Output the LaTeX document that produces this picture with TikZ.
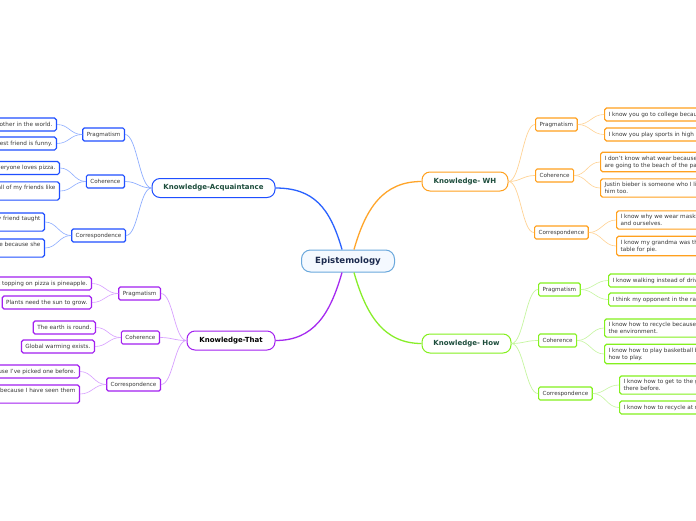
\documentclass[tikz,border=0pt]{standalone}
\usepackage{fontspec}
\setmainfont{DejaVu Sans}
\definecolor{bluB}{HTML}{1F4FFF}
\definecolor{bluL}{HTML}{8EAEFF}
\definecolor{bluM}{HTML}{2A62FF}
\definecolor{purB}{HTML}{A21FF0}
\definecolor{purL}{HTML}{D8A0FF}
\definecolor{purM}{HTML}{A52AF0}
\definecolor{orgB}{HTML}{FFA01E}
\definecolor{orgL}{HTML}{FFD395}
\definecolor{orgM}{HTML}{FFA52A}
\definecolor{grnB}{HTML}{84F01E}
\definecolor{grnL}{HTML}{C6F6A0}
\definecolor{grnM}{HTML}{88EE2A}
\definecolor{ctrB}{HTML}{6AA8DC}
\definecolor{ctrF}{HTML}{F4F9FF}
\definecolor{mainT}{HTML}{1D4D3C}
\definecolor{ctrT}{HTML}{1B2A4E}
\definecolor{leafT}{HTML}{3A3A3A}
\begin{document}
\begin{tikzpicture}[x=1pt,y=-1pt,
 leaf/.style={draw, line width=1.2pt, rounded corners=1.8pt, fill=white,
   font=\fontsize{5.7}{7}\selectfont, text=leafT, inner xsep=4pt, inner ysep=3.4pt,
   align=left, minimum height=13pt},
 sub/.style={draw, line width=1.2pt, rounded corners=1.5pt, fill=white,
   font=\fontsize{5.6}{6.8}\selectfont, text=leafT, inner xsep=4pt, inner ysep=2pt, minimum height=13pt},
 mainbox/.style={draw, line width=1pt, rounded corners=8pt, fill=white,
   font=\bfseries\fontsize{7}{8}\selectfont, text=mainT, minimum height=19pt, inner xsep=2pt},
 ctrbox/.style={draw=ctrB, line width=1pt, rounded corners=9pt, fill=ctrF,
   font=\bfseries\fontsize{8.6}{10}\selectfont, text=ctrT, minimum height=22pt, minimum width=93pt},
 lk/.style={line width=0.6pt},
 mk/.style={line width=0.7pt},
 ck/.style={line width=1.3pt},
]
\useasboundingbox (0,0) rectangle (696,520);
\clip (0,0) rectangle (696,520);
\fill[white] (0,0) rectangle (696,520);

% centre
\node[ctrbox] (epi) at (348,261) {Epistemology};

% main nodes
\node[mainbox, draw=bluB, minimum width=123pt] (acq) at (213.5,188) {Knowledge-Acquaintance};
\node[mainbox, draw=purB, text=black, minimum width=88pt] (that) at (231,340.5) {Knowledge-That};
\node[mainbox, draw=orgB, minimum width=86pt] (wh) at (465,181.5) {Knowledge- WH};
\node[mainbox, draw=grnB, minimum width=89pt] (how) at (466.5,343.5) {Knowledge- How};

% subs acquaintance
\node[sub, draw=bluB, anchor=east] (ap) at (125,134.5) {Pragmatism};
\node[sub, draw=bluB, anchor=east] (ac) at (125,181.5) {Coherence};
\node[sub, draw=bluB, anchor=east] (ar) at (126,235.5) {Correspondence};
% subs that
\node[sub, draw=purB, anchor=east] (tp) at (161,293.5) {Pragmatism};
\node[sub, draw=purB, anchor=east] (tc) at (160,337.5) {Coherence};
\node[sub, draw=purB, anchor=east] (tr) at (161,384.5) {Correspondence};
% subs wh
\node[sub, draw=orgB, anchor=west] (wp) at (535,124.5) {Pragmatism};
\node[sub, draw=orgB, anchor=west] (wc) at (535,175.5) {Coherence};
\node[sub, draw=orgB, anchor=west] (wr) at (534,232.5) {Correspondence};
% subs how
\node[sub, draw=grnB, anchor=west] (hp) at (538,289.5) {Pragmatism};
\node[sub, draw=grnB, anchor=west] (hc) at (538,340.5) {Coherence};
\node[sub, draw=grnB, anchor=west] (hr) at (538,393.5) {Correspondence};

% leaves acquaintance
\node[leaf, draw=bluB, anchor=east] (a1) at (57,124.5) {I know I have the best brother in the world.};
\node[leaf, draw=bluB, anchor=east] (a2) at (57,143.5) {I know that my best friend is funny.};
\node[leaf, draw=bluB, anchor=east] (a3) at (60,168) {I know that everyone loves pizza.};
\node[leaf, draw=bluB, anchor=east] (a4) at (60,191) {I know that all of my friends like\\ me.};
\node[leaf, draw=bluB, anchor=east] (a5) at (45,222) {I know how to swim because my friend taught\\ me.};
\node[leaf, draw=bluB, anchor=east] (a6) at (45,248) {I know my mom is nice because she\\ cares.};
% leaves that
\node[leaf, draw=purB, anchor=east] (t1) at (92,283.5) {I know the best topping on pizza is pineapple.};
\node[leaf, draw=purB, anchor=east] (t2) at (92,302.5) {Plants need the sun to grow.};
\node[leaf, draw=purB, anchor=east] (t3) at (96,327.5) {The earth is round.};
\node[leaf, draw=purB, anchor=east] (t4) at (95,346.5) {Global warming exists.};
\node[leaf, draw=purB, anchor=east] (t5) at (80,371.5) {I know apples grow on trees because I've picked one before.};
\node[leaf, draw=purB, anchor=east] (t6) at (80,394) {I know lions exist because I have seen them\\ at the zoo.};
% leaves wh
\node[leaf, draw=orgB, anchor=west] (w1) at (604,114.5) {I know you go to college because you told me.};
\node[leaf, draw=orgB, anchor=west] (w2) at (604,134.5) {I know you play sports in high school because I saw you.};
\node[leaf, draw=orgB, anchor=west] (w3) at (600,162) {I don't know what wear because I don't know if we\\ are going to the beach of the park.};
\node[leaf, draw=orgB, anchor=west] (w4) at (600,188) {Justin bieber is someone who I like because my friends like\\ him too.};
\node[leaf, draw=orgB, anchor=west] (w5) at (616,220) {I know why we wear masks, to protect others\\ and ourselves.};
\node[leaf, draw=orgB, anchor=west] (w6) at (616,246) {I know my grandma was there because she set the\\ table for pie.};
% leaves how
\node[leaf, draw=grnB, anchor=west] (h1) at (608,280.5) {I know walking instead of driving helps the planet.};
\node[leaf, draw=grnB, anchor=west] (h2) at (608,299.5) {I think my opponent in the race is faster than me.};
\node[leaf, draw=grnB, anchor=west] (h3) at (604,328) {I know how to recycle because it helps\\ the environment.};
\node[leaf, draw=grnB, anchor=west] (h4) at (604,354) {I know how to play basketball because my dad taught me\\ how to play.};
\node[leaf, draw=grnB, anchor=west] (h5) at (619,385) {I know how to get to the gym because I have been\\ there before.};
\node[leaf, draw=grnB, anchor=west] (h6) at (619,407.5) {I know how to recycle at my school.};

% centre connectors
\draw[ck, bluM] ([xshift=-6pt]epi.north) .. controls +(-12,-42) and +(38,0) .. (acq.east);
\draw[ck, purM] ([xshift=-6pt]epi.south) .. controls +(-12,42) and +(38,0) .. (that.east);
\draw[ck, orgM] ([xshift=6pt]epi.north) .. controls +(12,-42) and +(-38,0) .. (wh.west);
\draw[ck, grnM] ([xshift=6pt]epi.south) .. controls +(12,42) and +(-38,0) .. (how.west);

% main -> sub
\foreach \s in {ap,ac,ar}{\draw[mk, bluL] (acq.west) .. controls +(-12,0) and +(12,0) .. (\s.east);}
\foreach \s in {tp,tc,tr}{\draw[mk, purL] (that.west) .. controls +(-12,0) and +(12,0) .. (\s.east);}
\foreach \s in {wp,wc,wr}{\draw[mk, orgL] (wh.east) .. controls +(12,0) and +(-12,0) .. (\s.west);}
\foreach \s in {hp,hc,hr}{\draw[mk, grnL] (how.east) .. controls +(12,0) and +(-12,0) .. (\s.west);}

% sub -> leaf
\draw[lk, bluL] (ap.west) .. controls +(-12,0) and +(12,0) .. (a1.east);
\draw[lk, bluL] (ap.west) .. controls +(-12,0) and +(12,0) .. (a2.east);
\draw[lk, bluL] (ac.west) .. controls +(-12,0) and +(12,0) .. (a3.east);
\draw[lk, bluL] (ac.west) .. controls +(-12,0) and +(12,0) .. (a4.east);
\draw[lk, bluL] (ar.west) .. controls +(-12,0) and +(12,0) .. (a5.east);
\draw[lk, bluL] (ar.west) .. controls +(-12,0) and +(12,0) .. (a6.east);
\draw[lk, purL] (tp.west) .. controls +(-12,0) and +(12,0) .. (t1.east);
\draw[lk, purL] (tp.west) .. controls +(-12,0) and +(12,0) .. (t2.east);
\draw[lk, purL] (tc.west) .. controls +(-12,0) and +(12,0) .. (t3.east);
\draw[lk, purL] (tc.west) .. controls +(-12,0) and +(12,0) .. (t4.east);
\draw[lk, purL] (tr.west) .. controls +(-12,0) and +(12,0) .. (t5.east);
\draw[lk, purL] (tr.west) .. controls +(-12,0) and +(12,0) .. (t6.east);
\draw[lk, orgL] (wp.east) .. controls +(12,0) and +(-12,0) .. (w1.west);
\draw[lk, orgL] (wp.east) .. controls +(12,0) and +(-12,0) .. (w2.west);
\draw[lk, orgL] (wc.east) .. controls +(12,0) and +(-12,0) .. (w3.west);
\draw[lk, orgL] (wc.east) .. controls +(12,0) and +(-12,0) .. (w4.west);
\draw[lk, orgL] (wr.east) .. controls +(12,0) and +(-12,0) .. (w5.west);
\draw[lk, orgL] (wr.east) .. controls +(12,0) and +(-12,0) .. (w6.west);
\draw[lk, grnL] (hp.east) .. controls +(12,0) and +(-12,0) .. (h1.west);
\draw[lk, grnL] (hp.east) .. controls +(12,0) and +(-12,0) .. (h2.west);
\draw[lk, grnL] (hc.east) .. controls +(12,0) and +(-12,0) .. (h3.west);
\draw[lk, grnL] (hc.east) .. controls +(12,0) and +(-12,0) .. (h4.west);
\draw[lk, grnL] (hr.east) .. controls +(12,0) and +(-12,0) .. (h5.west);
\draw[lk, grnL] (hr.east) .. controls +(12,0) and +(-12,0) .. (h6.west);
\end{tikzpicture}
\end{document}
